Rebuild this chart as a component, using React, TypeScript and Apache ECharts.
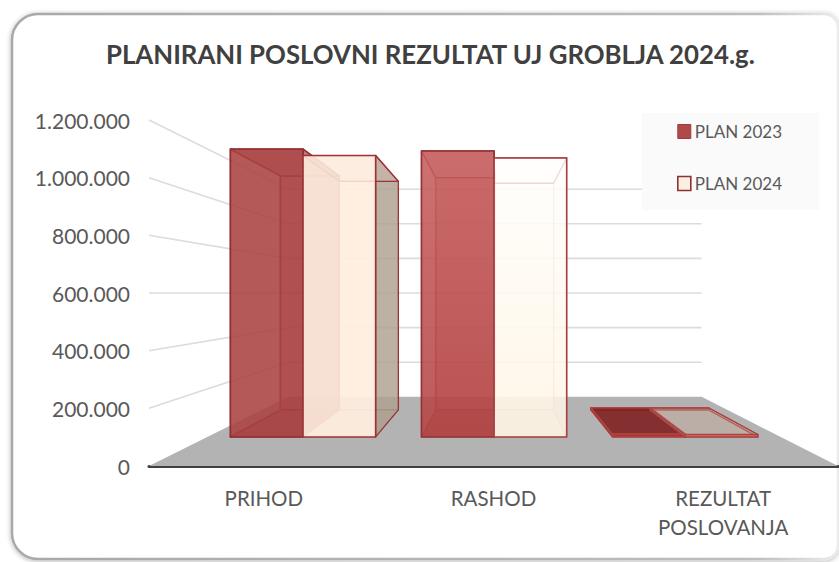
import React, { useEffect, useRef } from "react";
import * as echarts from "echarts";

const categories = ["PRIHOD", "RASHOD", "REZULTAT\nPOSLOVANJA"];
const plan2023 = [1200000, 1192000, 12000];
const plan2024 = [1173000, 1163000, 10000];
const gridTicks = [200000, 400000, 600000, 800000, 1000000, 1200000];
const titleText = "PLANIRANI POSLOVNI REZULTAT UJ GROBLJA 2024.g.";

const FONT = "Lato, 'Open Sans', sans-serif";
const VP = [497, 293];
const T_WALL = 0.4;
const T_FRONT = 0.168;
const T_BACK = 0.324;
const BAR_SHARE = 0.38;

const proj = (p: number[], t: number) => [p[0] + t * (VP[0] - p[0]), p[1] + t * (VP[1] - p[1])];
const grad = (a: string, b: string) =>
  new echarts.graphic.LinearGradient(0, 0, 0, 1, [
    { offset: 0, color: a },
    { offset: 1, color: b },
  ]);

const poly = (points: number[][], fill: any, stroke: string, lineWidth = 1.3) => ({
  type: "polygon",
  shape: { points },
  style: { fill, stroke, lineWidth, lineJoin: "round" },
});

const barRender = (side: number) => (params: any, api: any) => {
  const idx = api.value(0);
  const val = api.value(1);
  const w = api.size([1, 0])[0] * BAR_SHARE;
  const base = api.coord([idx, 0]);
  const top = api.coord([idx, val]);
  const x0 = side < 0 ? base[0] - w : base[0];
  const x1 = x0 + w;
  const corner = (x: number, y: number, t: number) => proj([x, y], t);
  const fbl = corner(x0, base[1], T_FRONT);
  const fbr = corner(x1, base[1], T_FRONT);
  const ftl = corner(x0, top[1], T_FRONT);
  const ftr = corner(x1, top[1], T_FRONT);
  const bbl = corner(x0, base[1], T_BACK);
  const bbr = corner(x1, base[1], T_BACK);
  const btl = corner(x0, top[1], T_BACK);
  const btr = corner(x1, top[1], T_BACK);
  const rightOuter = btr[0] > ftr[0];
  let s: any;
  if (side < 0) {
    s =
      idx === 0
        ? { front: "rgba(170,66,66,0.85)", back: "rgba(150,40,40,0.45)", left: "rgba(160,50,50,0.2)", right: "rgba(150,40,40,0.25)", top: "rgba(150,40,40,0.5)", bottom: "rgba(140,35,35,0.5)", edge: "#8f3032", inner: "#8f3032" }
        : { front: grad("rgba(200,95,95,0.85)", "rgba(180,68,68,0.85)"), back: "rgba(175,60,60,0.45)", left: "rgba(170,60,60,0.2)", right: "rgba(170,60,60,0.2)", top: "rgba(170,60,60,0.35)", bottom: "rgba(140,35,35,0.55)", edge: "#933335", inner: "rgba(150,50,50,0.55)" };
    if (idx === 2) {
      s = { ...s, front: "rgba(170,45,45,0.9)", top: "rgba(125,25,25,0.75)", bottom: "rgba(125,25,25,0.4)", back: "rgba(125,25,25,0.1)", edge: "#b34444", inner: "#a83c3c" };
    }
  } else {
    s =
      idx === 0
        ? { front: "rgba(255,238,224,0.85)", back: "rgba(252,230,212,0.6)", left: "rgba(205,165,145,0.55)", right: "rgba(135,125,110,0.55)", top: "rgba(210,170,150,0.35)", bottom: "rgba(250,225,205,0.6)", edge: "#9c3436", inner: "rgba(180,120,105,0.35)" }
        : { front: grad("rgba(255,255,255,0.8)", "rgba(255,245,228,0.8)"), back: "rgba(255,250,235,0.55)", left: "rgba(255,245,230,0.3)", right: "rgba(255,240,225,0.3)", top: "rgba(255,245,240,0.3)", bottom: "rgba(250,228,210,0.6)", edge: "#a83c3e", inner: "rgba(190,140,130,0.32)" };
    if (idx === 2) {
      s = { ...s, front: "rgba(215,110,95,0.9)", top: "rgba(200,170,150,0.35)", bottom: "rgba(200,170,150,0.1)", back: "rgba(200,170,150,0.05)", edge: "#a84442", inner: "#a84442" };
    }
  }
  return {
    type: "group",
    children: [
      poly([bbl, bbr, btr, btl], s.back, s.inner),
      poly([fbl, bbl, btl, ftl], s.left, s.inner),
      poly([fbl, fbr, bbr, bbl], s.bottom, s.inner),
      poly([fbr, bbr, btr, ftr], s.right, rightOuter ? s.edge : s.inner),
      poly([ftl, ftr, btr, btl], s.top, s.edge),
      poly([fbl, fbr, ftr, ftl], s.front, s.edge, 1.6),
    ],
  };
};

const floorRender = (params: any, api: any) => {
  const cs = params.coordSys;
  const y = api.coord([0, 0])[1];
  const a = [cs.x, y];
  const b = [cs.x + cs.width, y];
  return poly([a, b, proj(b, T_WALL), proj(a, T_WALL)], "#b3b3b3", "none", 0);
};

const wallRender = (params: any, api: any) => {
  const cs = params.coordSys;
  const y = api.coord([0, api.value(0)])[1];
  const a = [cs.x, y];
  const b = [cs.x + cs.width, y];
  return {
    type: "polyline",
    shape: { points: [a, proj(a, T_WALL), proj(b, T_WALL)] },
    style: { fill: "none", stroke: "#dcdcdc", lineWidth: 1.6 },
  };
};

const fmt = (v: number) => String(v).replace(/\B(?=(\d{3})+(?!\d))/g, ".");

export default function App() {
  const ref = useRef<HTMLDivElement>(null);
  useEffect(() => {
    document.body.style.margin = "0";
    const chart = echarts.init(ref.current!, undefined, { renderer: "svg" });
    chart.setOption({
      animation: false,
      backgroundColor: "#ffffff",
      graphic: [
        {
          type: "rect",
          z: -10,
          silent: true,
          shape: { x: 12, y: 14, width: 826, height: 545, r: [26, 14, 14, 26] },
          style: {
            fill: "#ffffff",
            stroke: new echarts.graphic.LinearGradient(0, 0, 1, 0, [
              { offset: 0, color: "#a8a8a8" },
              { offset: 0.9, color: "#bdbdbd" },
              { offset: 1, color: "#ececec" },
            ]),
            lineWidth: 2.5,
            shadowBlur: 5,
            shadowColor: "rgba(0,0,0,0.3)",
            shadowOffsetX: 0,
            shadowOffsetY: 1,
          },
        },
      ],
      title: {
        text: titleText,
        left: 106,
        top: 41,
        padding: 0,
        textStyle: { fontFamily: FONT, fontSize: 25.8, fontWeight: "bold", color: "#404040" },
      },
      legend: {
        orient: "vertical",
        left: 642,
        top: 113,
        padding: [10, 37, 18, 35],
        itemGap: 35,
        itemWidth: 13,
        itemHeight: 14,
        backgroundColor: "#fafafa",
        textStyle: { fontFamily: FONT, fontSize: 17, color: "#595959", padding: [0, 0, 0, -1] },
        data: [
          { name: "PLAN 2023", icon: "rect", itemStyle: { color: "#b04a4a", borderColor: "#9c3c3c", borderWidth: 1 } },
          { name: "PLAN 2024", icon: "rect", itemStyle: { color: "#fdeee2", borderColor: "#8f3032", borderWidth: 1.6 } },
        ],
      },
      grid: { left: 149, top: 120, width: 689, height: 346 },
      xAxis: {
        type: "category",
        data: categories,
        axisTick: { show: false },
        axisLine: { lineStyle: { color: "#404040", width: 3 } },
        axisLabel: { interval: 0, margin: 17, lineHeight: 29, fontFamily: FONT, fontSize: 20.5, color: "#595959" },
      },
      yAxis: {
        type: "value",
        min: 0,
        max: 1200000,
        interval: 200000,
        axisLine: { show: false },
        axisTick: { show: false },
        splitLine: { show: false },
        axisLabel: { margin: 19, fontFamily: FONT, fontSize: 21, color: "#595959", formatter: fmt },
      },
      series: [
        { type: "custom", name: "floor", silent: true, data: [0], renderItem: floorRender, encode: { y: 0 }, z: 1, clip: false },
        { type: "custom", name: "walls", silent: true, data: gridTicks.map((v) => [v]), renderItem: wallRender, encode: { y: 0 }, z: 2, clip: false },
        { type: "custom", name: "PLAN 2023", data: plan2023.map((v, i) => [i, v]), renderItem: barRender(-1), encode: { x: 0, y: 1 }, z: 3, clip: false },
        { type: "custom", name: "PLAN 2024", data: plan2024.map((v, i) => [i, v]), renderItem: barRender(1), encode: { x: 0, y: 1 }, z: 4, clip: false },
      ],
    });
    return () => chart.dispose();
  }, []);
  return <div ref={ref} style={{ width: 839, height: 562 }} />;
}
